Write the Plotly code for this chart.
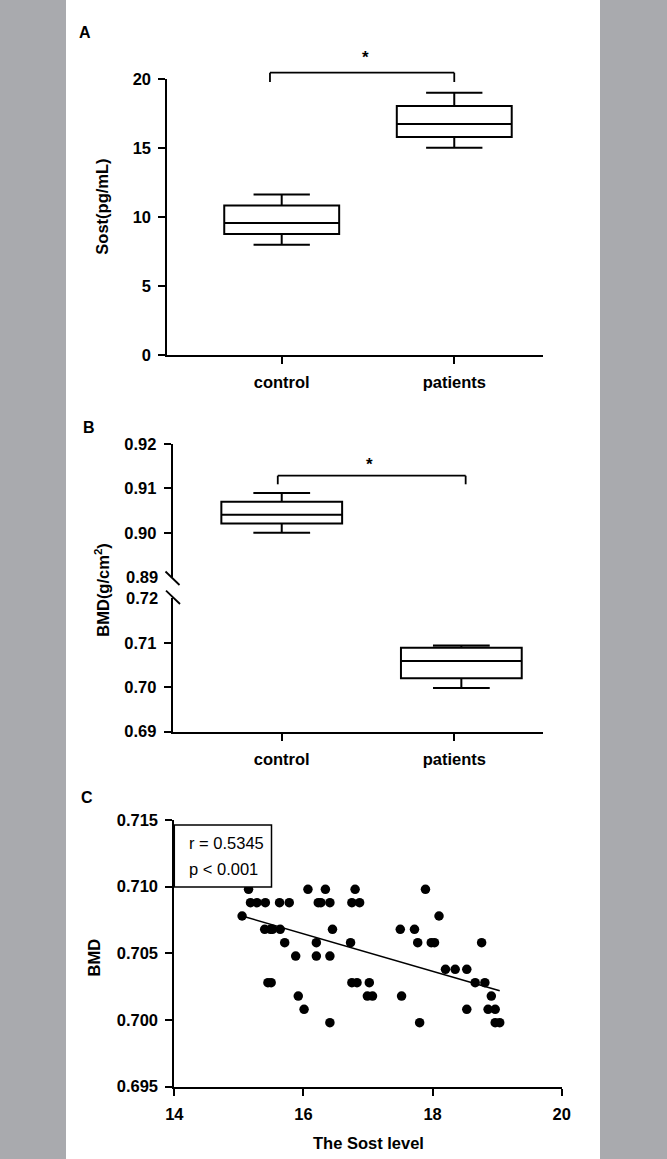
import numpy as np
import plotly.graph_objects as go

W, H = 667, 1159

# ---- data -------------------------------------------------------------
groups = ["control", "patients"]

# Panel A: serum sclerostin (pg/mL) box statistics
sost_lower = [8.0, 15.04]
sost_q1 = [8.77, 15.81]
sost_median = [9.57, 16.76]
sost_q3 = [10.85, 18.06]
sost_upper = [11.65, 19.03]

# Panel B: BMD (g/cm2) box statistics
bmd_lower = [0.9000, 0.6998]
bmd_q1 = [0.9021, 0.7020]
bmd_median = [0.9041, 0.7059]
bmd_q3 = [0.9070, 0.7089]
bmd_upper = [0.9090, 0.7094]

# Panel C: Sost level vs BMD in patients
sost_level = [
    15.15, 16.07, 16.34, 16.80, 17.89,
    15.18, 15.28, 15.41, 15.63, 15.78, 16.23, 16.27, 16.41, 16.75, 16.87,
    15.05, 18.10,
    15.40, 15.49, 15.52, 15.64, 16.45, 17.50, 17.72,
    15.71, 16.20, 16.73, 17.77, 17.98, 18.03, 18.76,
    15.88, 16.20, 16.41,
    18.20, 18.35, 18.53,
    15.45, 15.50, 16.75, 16.83, 17.02, 18.66, 18.81,
    15.92, 16.99, 17.07, 17.52, 18.91,
    16.01, 18.53, 18.86, 18.97,
    16.41, 17.80, 18.97, 19.04,
]
bmd_patients = (
    [0.7098] * 5 + [0.7088] * 10 + [0.7078] * 2 + [0.7068] * 7 + [0.7058] * 7
    + [0.7048] * 3 + [0.7038] * 3 + [0.7028] * 7 + [0.7018] * 5 + [0.7008] * 4
    + [0.6998] * 4
)
# fitted regression line, end points
fit_sost = [15.05, 19.04]
fit_bmd = [0.7078, 0.7022]
corr_text = ["r = 0.5345", "p < 0.001"]

sost_ticks = [0, 5, 10, 15, 20]
bmd_top_ticks = [0.90, 0.91, 0.92]
bmd_bottom_ticks = [0.69, 0.70, 0.71]
scatter_xticks = [14, 16, 18, 20]
scatter_yticks = [0.695, 0.700, 0.705, 0.710, 0.715]


# ---- helpers ----------------------------------------------------------
def px(x):
    return x / W


def py(y):
    return 1 - y / H


SANS = "Liberation Sans, Arial, Helvetica, sans-serif"
FS = 16.5
tick_font = dict(family=SANS, size=FS, color="black", weight="bold")
LW = 2
GREY = "#a9aaae"

axis_common = dict(
    showline=True, linecolor="black", linewidth=LW,
    ticks="outside", ticklen=7, tickwidth=LW, tickcolor="black",
    tickfont=tick_font, showgrid=False, zeroline=False,
    fixedrange=True, ticklabelstandoff=4, automargin=False,
)

fig = go.Figure()

box_style = dict(line=dict(color="black", width=LW), fillcolor="white",
                 boxpoints=False, hoverinfo="skip", showlegend=False)

# Panel A boxes
fig.add_trace(go.Box(
    x=[0, 1], q1=sost_q1, median=sost_median, q3=sost_q3,
    lowerfence=sost_lower, upperfence=sost_upper,
    width=0.666, whiskerwidth=0.49, xaxis="x", yaxis="y", **box_style))

# Panel B boxes: control in the upper segment, patients in the lower one
fig.add_trace(go.Box(
    x=[0], q1=bmd_q1[:1], median=bmd_median[:1], q3=bmd_q3[:1],
    lowerfence=bmd_lower[:1], upperfence=bmd_upper[:1],
    width=0.70, whiskerwidth=0.47, xaxis="x2", yaxis="y2", **box_style))
fig.add_trace(go.Box(
    x=[1.041], q1=bmd_q1[1:], median=bmd_median[1:], q3=bmd_q3[1:],
    lowerfence=bmd_lower[1:], upperfence=bmd_upper[1:],
    width=0.70, whiskerwidth=0.47, xaxis="x3", yaxis="y3", **box_style))

# Panel C scatter and regression line
fig.add_trace(go.Scatter(
    x=fit_sost, y=fit_bmd, mode="lines",
    line=dict(color="black", width=1.5), xaxis="x4", yaxis="y4",
    hoverinfo="skip", showlegend=False))
fig.add_trace(go.Scatter(
    x=sost_level, y=bmd_patients, mode="markers",
    marker=dict(color="black", size=9.5, line=dict(width=0)),
    xaxis="x4", yaxis="y4", hoverinfo="skip", showlegend=False))

# ---- axes -------------------------------------------------------------
cat_ticks = dict(tickmode="array", tickvals=[0, 1], ticktext=groups)

fig.update_layout(
    xaxis=dict(domain=[px(167.3), px(543.3)], range=[-0.663, 1.516],
               anchor="y", **cat_ticks, **axis_common),
    yaxis=dict(domain=[py(355), py(79.3)], range=[0, 20], anchor="x",
               tickvals=sost_ticks, **axis_common),
    xaxis2=dict(domain=[px(172.7), px(543.3)], range=[-0.632, 1.516],
                anchor="y2", visible=False, automargin=False),
    yaxis2=dict(domain=[py(577.3), py(444)], range=[0.89, 0.92], anchor="x2",
                tickvals=bmd_top_ticks, tickformat=".2f", **axis_common),
    xaxis3=dict(domain=[px(172.7), px(543.3)], range=[-0.632, 1.516],
                anchor="y3", **cat_ticks, **axis_common),
    yaxis3=dict(domain=[py(731.7), py(598.3)], range=[0.69, 0.72],
                anchor="x3", tickvals=bmd_bottom_ticks, tickformat=".2f",
                **axis_common),
    xaxis4=dict(domain=[px(174.3), px(561.7)], range=[14, 20], anchor="y4",
                tickvals=scatter_xticks, **axis_common),
    yaxis4=dict(domain=[py(1086.7), py(820)], range=[0.695, 0.715],
                anchor="x4", tickvals=scatter_yticks, tickformat=".3f",
                **axis_common),
)

# ---- decorations ------------------------------------------------------
shapes = [
    # grey side bands
    dict(type="rect", xref="paper", yref="paper", x0=0, x1=px(66),
         y0=0, y1=1, fillcolor=GREY, line=dict(width=0), layer="below"),
    dict(type="rect", xref="paper", yref="paper", x0=px(600), x1=1,
         y0=0, y1=1, fillcolor=GREY, line=dict(width=0), layer="below"),
]

# significance brackets
def bracket(xref, x0, x1, y_top, y_end):
    pts = [(x0, y_end), (x0, y_top), (x1, y_top), (x1, y_end)]
    out = []
    for (a, b), (c, d) in zip(pts[:-1], pts[1:]):
        out.append(dict(type="line", xref=xref, yref="paper",
                        x0=a, x1=c, y0=py(b), y1=py(d),
                        line=dict(color="black", width=1.8)))
    return out

shapes += bracket("x", -0.068, 1.0, 72.7, 82)
shapes += bracket("x3", -0.023, 1.066, 475.7, 484.3)

# axis-break slashes on panel B
for (x0, y0, x1, y1) in [(165.5, 571.5, 179.5, 585), (166, 590.7, 180, 604)]:
    shapes.append(dict(type="line", xref="paper", yref="paper",
                       x0=px(x0), x1=px(x1), y0=py(y0), y1=py(y1),
                       line=dict(color="black", width=1.8)))

# correlation legend box
shapes.append(dict(type="rect", xref="paper", yref="paper",
                   x0=px(174.3), x1=px(271.5), y0=py(887), y1=py(825),
                   line=dict(color="black", width=1.5), fillcolor="white"))

ann = []

def label(text, x, y, size=FS, bold=True, angle=0, xanchor="center"):
    ann.append(dict(text=text, x=px(x), y=py(y), xref="paper", yref="paper",
                    showarrow=False, textangle=angle, xanchor=xanchor,
                    yanchor="middle",
                    font=dict(family=SANS, size=size, color="black",
                              weight="bold" if bold else "normal")))

# panel letters
label("A", 84.5, 32.5, size=16)
label("B", 88.5, 427, size=16)
label("C", 86.5, 797, size=16)

# asterisks
label("*", 365, 57, size=17)
label("*", 369, 464, size=17)

# axis titles
label("Sost(pg/mL)", 101.7, 207, angle=-90)
label("BMD(g/cm<sup>2</sup>)", 101.7, 590, angle=-90)
label("BMD", 93.5, 958, angle=-90)
label("The Sost level", 368, 1143)

# break-segment tick labels
label("0.89", 159.5, 577.3, xanchor="right")
label("0.72", 159.5, 598.3, xanchor="right")

# correlation text
label(corr_text[0], 187.3, 843.3, bold=False, xanchor="left")
label(corr_text[1], 187.3, 869.3, bold=False, xanchor="left")

fig.update_layout(
    width=W, height=H, margin=dict(l=0, r=0, t=0, b=0, pad=0),
    paper_bgcolor="white", plot_bgcolor="white",
    shapes=shapes, annotations=ann, showlegend=False,
)

fig.write_html("out.html", post_script="document.body.style.margin='0';")
